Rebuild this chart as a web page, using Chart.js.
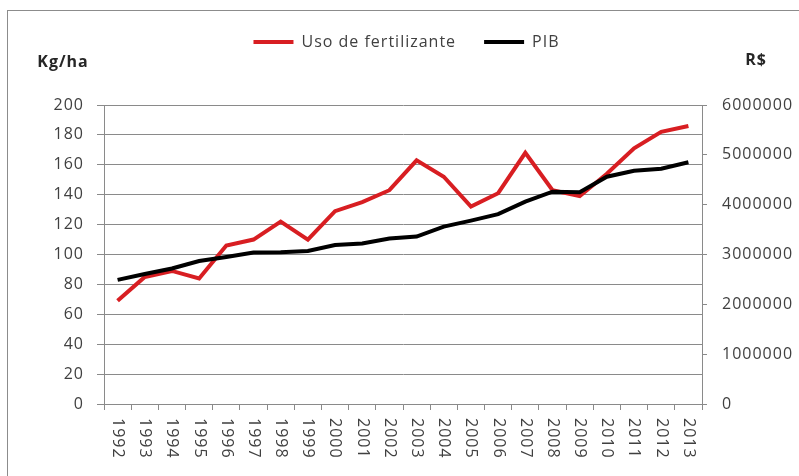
<!DOCTYPE html>
<html>
<head>
<meta charset="utf-8">
<script src="https://cdn.jsdelivr.net/npm/chart.js@4/dist/chart.umd.min.js"></script>
<style>
html,body{margin:0;padding:0;background:#fff;}
#wrap{position:relative;width:799px;height:476px;}
</style>
</head>
<body>
<div id="wrap"><canvas id="c" width="799" height="476"></canvas></div>
<script>
const years = ['1992','1993','1994','1995','1996','1997','1998','1999','2000','2001','2002','2003','2004','2005','2006','2007','2008','2009','2010','2011','2012','2013'];
const fertilizante = [69, 85, 89, 84, 106, 110, 122, 110, 129, 135, 143, 163, 152, 132, 141, 168, 143, 139, 154, 171, 182, 186];
const pib = [2490000, 2610000, 2720000, 2870000, 2950000, 3040000, 3045000, 3070000, 3190000, 3220000, 3320000, 3360000, 3560000, 3680000, 3810000, 4060000, 4260000, 4250000, 4560000, 4680000, 4720000, 4850000];
const seriesNames = ['Uso de fertilizante', 'PIB'];
const leftTitle = 'Kg/ha';
const rightTitle = 'R$';

const FONT = '"Open Sans", "Liberation Sans", sans-serif';
const GRID = '#8a8a8a';
const TXT = '#404040';
const RED = '#d81e22';
const SPACING = '1px';

const layoutFix = {
  id: 'layoutFix',
  beforeLayout(chart) {
    chart.ctx.letterSpacing = SPACING;
    const lg = chart.legend;
    if (lg && !lg._patched) {
      const orig = lg.fit;
      lg.fit = function () { orig.call(this); this.height = 99; };
      lg._patched = true;
    }
  }
};

const decor = {
  id: 'decor',
  beforeDraw(chart) {
    const ctx = chart.ctx;
    ctx.letterSpacing = SPACING;
    ctx.save();
    ctx.fillStyle = '#fff';
    ctx.fillRect(0, 0, chart.width, chart.height);
    ctx.strokeStyle = '#8c8c8c';
    ctx.lineWidth = 1;
    ctx.strokeRect(7.5, 10.5, 900, 600);
    ctx.restore();
  },
  afterDraw(chart) {
    const ctx = chart.ctx;
    const xs = chart.scales.x;
    ctx.save();
    ctx.letterSpacing = SPACING;
    // axis titles
    ctx.font = 'bold 16px ' + FONT;
    ctx.fillStyle = '#262626';
    ctx.textAlign = 'center';
    ctx.textBaseline = 'middle';
    ctx.fillText(leftTitle, 63, 62);
    ctx.fillText(rightTitle, 756, 60);
    // x labels rotated (top to bottom)
    ctx.font = '16px ' + FONT;
    ctx.fillStyle = TXT;
    ctx.textAlign = 'left';
    ctx.textBaseline = 'middle';
    years.forEach((lab, i) => {
      const x = xs.getPixelForValue(i);
      ctx.save();
      ctx.translate(x, xs.top + 14);
      ctx.rotate(Math.PI / 2);
      ctx.fillText(lab, 0, 0);
      ctx.restore();
    });
    ctx.restore();
  }
};

new Chart(document.getElementById('c'), {
  type: 'line',
  data: {
    labels: years,
    datasets: [
      { label: seriesNames[0], data: fertilizante, yAxisID: 'y', borderColor: RED, backgroundColor: RED,
        borderWidth: 4, pointRadius: 0, tension: 0, order: 1 },
      { label: seriesNames[1], data: pib, yAxisID: 'y1', borderColor: '#000', backgroundColor: '#000',
        borderWidth: 4, pointRadius: 0, tension: 0, order: 0 }
    ]
  },
  options: {
    responsive: false,
    animation: false,
    devicePixelRatio: 1,
    layout: { padding: { top: 6, left: 14, right: 0, bottom: 0 } },
    plugins: {
      tooltip: { enabled: false },
      legend: {
        display: true,
        position: 'top',
        labels: {
          font: { family: FONT, size: 16 },
          color: TXT,
          boxWidth: 40,
          boxHeight: 4,
          padding: 28,
          sort: (a, b) => a.datasetIndex - b.datasetIndex,
          generateLabels(chart) {
            const items = Chart.defaults.plugins.legend.labels.generateLabels(chart);
            items.forEach(it => { it.lineWidth = 0; });
            return items;
          }
        }
      }
    },
    scales: {
      x: {
        type: 'category',
        offset: true,
        grid: { display: true, offset: true, drawOnChartArea: false, drawTicks: true, tickLength: 6, color: GRID },
        border: { display: true, color: GRID, width: 1 },
        ticks: { display: false },
        afterFit(s) { s.height = 72; }
      },
      y: {
        position: 'left',
        min: 0, max: 200,
        ticks: { stepSize: 20, padding: 13, color: TXT, font: { family: FONT, size: 16 },
          callback: v => String(v) },
        grid: { color: GRID, tickLength: 7, drawTicks: true },
        border: { display: true, color: GRID },
        afterFit(s) { s.width = 90; }
      },
      y1: {
        position: 'right',
        min: 0, max: 6000000,
        ticks: { stepSize: 1000000, padding: 15, color: TXT, font: { family: FONT, size: 16 },
          callback: v => String(v) },
        grid: { drawOnChartArea: false, color: GRID, tickLength: 5, drawTicks: true },
        border: { display: true, color: GRID },
        afterFit(s) { s.width = 97; }
      }
    }
  },
  plugins: [layoutFix, decor]
});
</script>
</body>
</html>
